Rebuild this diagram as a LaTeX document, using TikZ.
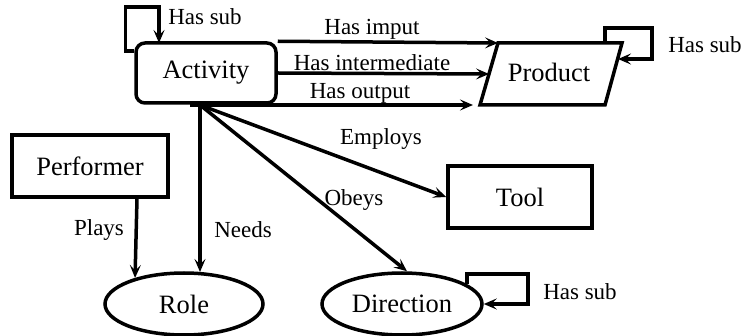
\documentclass[tikz,border=0pt]{standalone}
\usepackage{fontspec}
\setmainfont{Liberation Serif}
\usetikzlibrary{arrows.meta,shapes.geometric,calc}
\begin{document}
\begin{tikzpicture}[x=1pt,y=-1pt,
  line width=3.5pt,
  arr/.style={-{Stealth[length=13pt,width=11pt,inset=5.5pt]}},
  boxnode/.style={draw,rectangle,inner sep=0pt,font=\fontsize{26.5}{30}\selectfont},
  ovalnode/.style={draw,ellipse,inner sep=0pt,font=\fontsize{26.5}{30}\selectfont},
  lbl/.style={inner sep=0pt,font=\fontsize{23}{27}\selectfont}]
\useasboundingbox (0,0) rectangle (744,336);

% main nodes
\node[boxnode,rounded corners=9pt,minimum width=140pt,minimum height=60pt] (act) at (206,73) {Activity};
\node[boxnode,minimum width=156pt,minimum height=62pt] (perf) at (90,166) {Performer};
\node[boxnode,minimum width=144pt,minimum height=62pt] (tool) at (520,197) {Tool};
\node[ovalnode,minimum width=158pt,minimum height=62pt] (role) at (184,304) {Role};
\node[ovalnode,minimum width=160pt,minimum height=62pt] (dir) at (402,304) {Direction};

% product parallelogram
\coordinate (ptl) at (498,43);
\coordinate (ptr) at (622,43);
\coordinate (pbr) at (605,105);
\coordinate (pbl) at (480,105);
\draw (ptl) -- (ptr) -- (pbr) -- (pbl) -- cycle;
\node[inner sep=0pt,font=\fontsize{26.5}{30}\selectfont] (prod) at (549,72) {Product};

% helper points under Activity
\coordinate (hub) at (200,105);
\coordinate (outstart) at (190,105);
\coordinate (pmid) at ($(ptl)!0.5!(pbl)$);
\coordinate (px) at (137,0);

% Activity -> Product
\draw[arr] (act.north east) -- (ptl);
\draw[arr] (act.east) -- (pmid);
\draw[arr] (outstart) -- ([xshift=-7pt]pbl);
\node[lbl] (limp) at (372,29) {Has imput};
\node[lbl] (lint) at (372,63) {Has intermediate};
\node[lbl] (lout) at (360,93) {Has output};

% self loops
\draw[arr] ([yshift=-10pt]act.north west) -- ++(-9,0) |- (159,7) -- (159,43);
\node[lbl] (lsub1) at (205,17) {Has sub};
\draw[arr] (605,43) |- (652,28) |- (618,59);
\node[lbl] (lsub2) at (705,45) {Has sub};
\draw[arr] (dir.17) |- (528,274) |- (dir.east);
\node[lbl] (lsub3) at (580,292) {Has sub};

% Activity fan-out
\draw[arr] (hub) -- (hub |- role.62);
\node[lbl] (lneeds) at (243,230) {Needs};
\draw[arr] (hub) -- (tool.west);
\node[lbl] (lemp) at (381,139) {Employs};
\draw[arr] (hub) -- ([xshift=5pt]dir.north);
\node[lbl] (lobey) at (354,200) {Obeys};

% Performer -> Role
\draw[arr] (perf.south -| px) -- (role.152);
\node[lbl] (lplays) at (99,230) {Plays};
\end{tikzpicture}
\end{document}
